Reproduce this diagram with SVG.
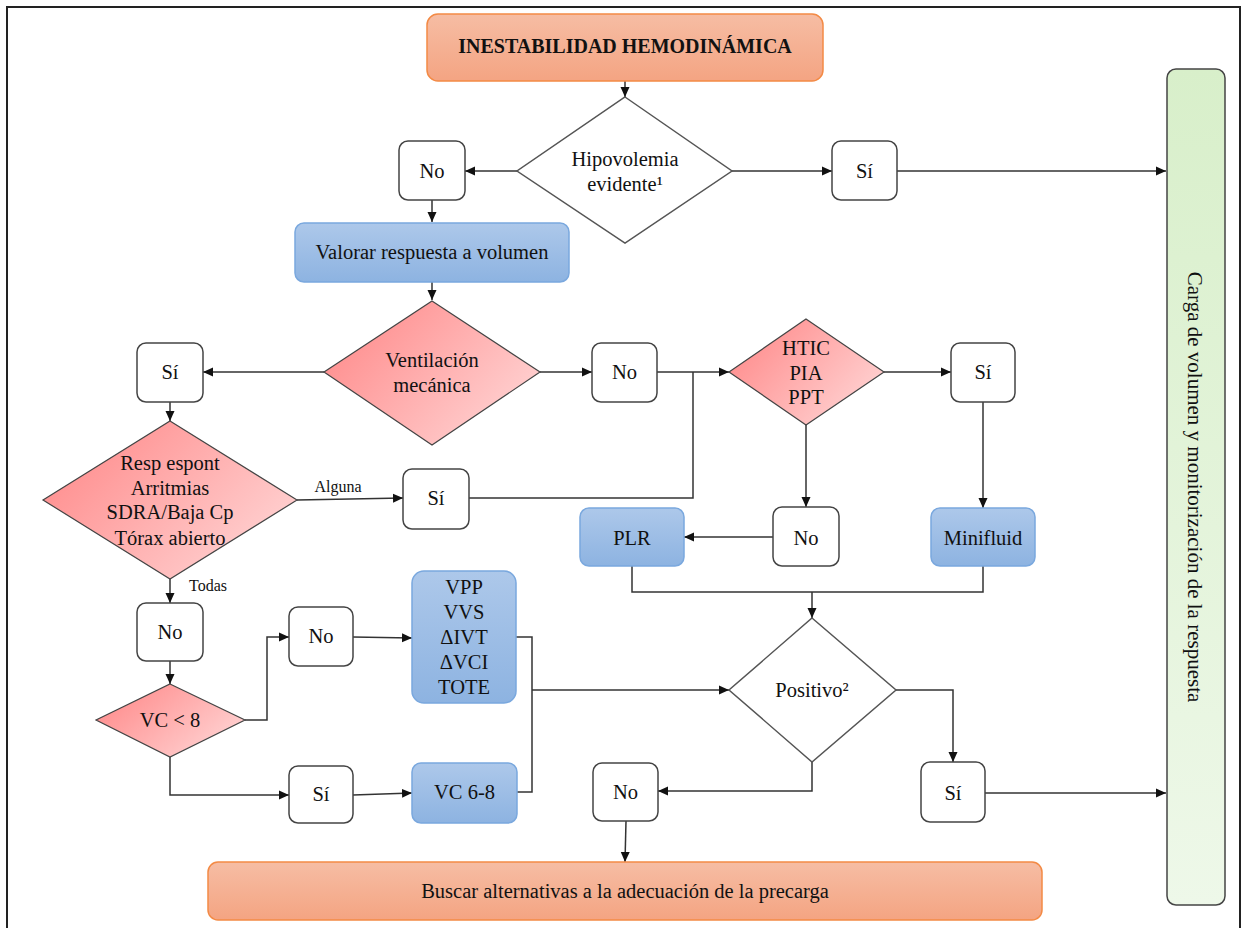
<svg xmlns="http://www.w3.org/2000/svg" width="1242" height="928" viewBox="0 0 1242 928" font-family="Liberation Serif, DejaVu Serif, serif">
<defs>
<linearGradient id="gOr" x1="0" y1="0" x2="0" y2="1"><stop offset="0" stop-color="#F6BDA4"/><stop offset="1" stop-color="#F4A482"/></linearGradient>
<linearGradient id="gBl" x1="0" y1="0" x2="0" y2="1"><stop offset="0" stop-color="#ADC8EA"/><stop offset="1" stop-color="#8DB3E1"/></linearGradient>
<linearGradient id="gRd" x1="0" y1="0.2" x2="1" y2="0.8"><stop offset="0" stop-color="#FF8A8A"/><stop offset="1" stop-color="#FFD6D6"/></linearGradient>
<linearGradient id="gGr" x1="0" y1="0" x2="0" y2="1"><stop offset="0" stop-color="#D8EFCA"/><stop offset="1" stop-color="#EEF8E9"/></linearGradient>
<marker id="ar" markerUnits="userSpaceOnUse" markerWidth="10" markerHeight="10" viewBox="0 0 10 10" refX="10" refY="5" orient="auto"><path d="M0,0.5 L10,5 L0,9.5 z" fill="#111"/></marker>
</defs>
<style>
text{font-family:'Liberation Serif','DejaVu Serif',serif;font-size:20.5px;fill:#111;text-anchor:middle}
.sm{font-size:16px}
.b{font-weight:bold;font-size:20px}
.vt{font-size:21px}
.wb{fill:#fff;stroke:#444;stroke-width:1.5}
.bl{fill:url(#gBl);stroke:#7AA8DE;stroke-width:1.5}
.or{fill:url(#gOr);stroke:#F38A45;stroke-width:1.5}
.rd{fill:url(#gRd);stroke:#444;stroke-width:1.2}
.wd{fill:#fff;stroke:#555;stroke-width:1.5}
.c{fill:none;stroke:#333;stroke-width:1.5}
.ca{fill:none;stroke:#333;stroke-width:1.5;marker-end:url(#ar)}
</style>
<rect x="0" y="0" width="1242" height="928" fill="#fff"/>
<rect x="7" y="7" width="1233" height="950" fill="none" stroke="#222" stroke-width="2"/>

<g id="connectors">
<path class="ca" d="M625,81 V97"/>
<path class="ca" d="M517,171 H465"/>
<path class="ca" d="M732,171 H832"/>
<path class="ca" d="M897,171 H1166"/>
<path class="ca" d="M432,200 V222"/>
<path class="ca" d="M432,282 V300"/>
<path class="ca" d="M324,372 H203"/>
<path class="ca" d="M540,372 H592"/>
<path class="ca" d="M657,372 H729"/>
<path class="c" d="M469,498 H693 V372"/>
<path class="ca" d="M884,372 H951"/>
<path class="ca" d="M983,402 V508"/>
<path class="ca" d="M806,425 V507"/>
<path class="ca" d="M773,537 H684"/>
<path class="c" d="M632,566 V592 H983 V566"/>
<path class="ca" d="M812,592 V618"/>
<path class="ca" d="M170,402 V421"/>
<path class="ca" d="M297,500 L403,498"/>
<path class="ca" d="M170,579 V603"/>
<path class="ca" d="M170,661 V684"/>
<path class="ca" d="M245,720 H267 V637 H289"/>
<path class="ca" d="M353,637 L412,638"/>
<path class="ca" d="M170,757 V795 H289"/>
<path class="ca" d="M353,795 L412,793"/>
<path class="c" d="M516,637 H532 V792 H517"/>
<path class="ca" d="M532,690 H729"/>
<path class="ca" d="M896,690 H953 V762"/>
<path class="ca" d="M812,762 V791 H658"/>
<path class="ca" d="M985,793 H1166"/>
<path class="ca" d="M626,821 L625,862"/>
</g>

<g id="n-inestabilidad"><rect class="or" x="427" y="14" width="396" height="67" rx="11"/><text class="b" x="625" y="53">INESTABILIDAD HEMODINÁMICA</text></g>
<g id="n-hipovolemia"><polygon class="wd" points="625,97 732,171 625,243 517,171"/><text x="625" y="166">Hipovolemia</text><text x="625" y="191">evidente¹</text></g>
<g id="n-no1"><rect class="wb" x="399" y="141" width="66" height="59" rx="9"/><text x="432" y="178">No</text></g>
<g id="n-si1"><rect class="wb" x="832" y="141" width="65" height="59" rx="9"/><text x="864.5" y="178">Sí</text></g>
<g id="n-carga"><rect x="1167" y="69" width="58" height="836" rx="9" fill="url(#gGr)" stroke="#444" stroke-width="1.5"/><text class="vt" transform="translate(1188,487) rotate(90)">Carga de volumen y monitorización de la respuesta</text></g>
<g id="n-valorar"><rect class="bl" x="295" y="223" width="274" height="59" rx="9"/><text x="432" y="259">Valorar respuesta a volumen</text></g>
<g id="n-ventilacion"><polygon class="rd" points="432,301 540,372 432,445 324,372"/><text x="432" y="367">Ventilación</text><text x="432" y="392">mecánica</text></g>
<g id="n-si2"><rect class="wb" x="137" y="343" width="66" height="59" rx="9"/><text x="170" y="379">Sí</text></g>
<g id="n-no2"><rect class="wb" x="592" y="343" width="65" height="59" rx="9"/><text x="624.5" y="379">No</text></g>
<g id="n-htic"><polygon class="rd" points="806,319 884,372 806,425 729,372"/><text x="806" y="355">HTIC</text><text x="806" y="380">PIA</text><text x="806" y="404">PPT</text></g>
<g id="n-si3"><rect class="wb" x="951" y="343" width="64" height="59" rx="9"/><text x="983" y="379">Sí</text></g>
<g id="n-resp"><polygon class="rd" points="170,421 297,500 170,579 43,500"/><text x="170" y="470">Resp espont</text><text x="170" y="495">Arritmias</text><text x="170" y="519">SDRA/Baja Cp</text><text x="170" y="545">Tórax abierto</text></g>
<g id="l-alguna"><text class="sm" x="338" y="492">Alguna</text></g>
<g id="n-si4"><rect class="wb" x="403" y="469" width="66" height="60" rx="9"/><text x="436" y="505">Sí</text></g>
<g id="n-plr"><rect class="bl" x="580" y="508" width="104" height="58" rx="9"/><text x="632" y="545">PLR</text></g>
<g id="n-no3"><rect class="wb" x="773" y="507" width="66" height="59" rx="9"/><text x="806" y="545">No</text></g>
<g id="n-minifluid"><rect class="bl" x="931" y="508" width="104" height="58" rx="9"/><text x="983" y="545">Minifluid</text></g>
<g id="l-todas"><text class="sm" x="208" y="591">Todas</text></g>
<g id="n-no4"><rect class="wb" x="137" y="603" width="66" height="58" rx="9"/><text x="170" y="639">No</text></g>
<g id="n-no5"><rect class="wb" x="289" y="607" width="64" height="59" rx="9"/><text x="321" y="643">No</text></g>
<g id="n-vpp"><rect class="bl" x="412" y="571" width="104" height="132" rx="12"/><text x="464" y="594">VPP</text><text x="464" y="619">VVS</text><text x="464" y="644">ΔIVT</text><text x="464" y="669">ΔVCI</text><text x="464" y="694">TOTE</text></g>
<g id="n-vc8"><polygon class="rd" points="170,684 245,720 170,757 96,720"/><text x="170" y="727">VC &lt; 8</text></g>
<g id="n-positivo"><polygon class="wd" points="812,618 896,690 812,762 729,690"/><text x="812" y="697">Positivo²</text></g>
<g id="n-si5"><rect class="wb" x="289" y="766" width="64" height="57" rx="9"/><text x="321" y="801">Sí</text></g>
<g id="n-vc68"><rect class="bl" x="412" y="763" width="105" height="60" rx="9"/><text x="464.5" y="799">VC 6-8</text></g>
<g id="n-no6"><rect class="wb" x="593" y="763" width="65" height="58" rx="9"/><text x="625.5" y="799">No</text></g>
<g id="n-si6"><rect class="wb" x="921" y="762" width="64" height="60" rx="9"/><text x="953" y="800">Sí</text></g>
<g id="n-buscar"><rect class="or" x="208" y="862" width="834" height="58" rx="10"/><text x="625" y="898">Buscar alternativas a la adecuación de la precarga</text></g>
</svg>
